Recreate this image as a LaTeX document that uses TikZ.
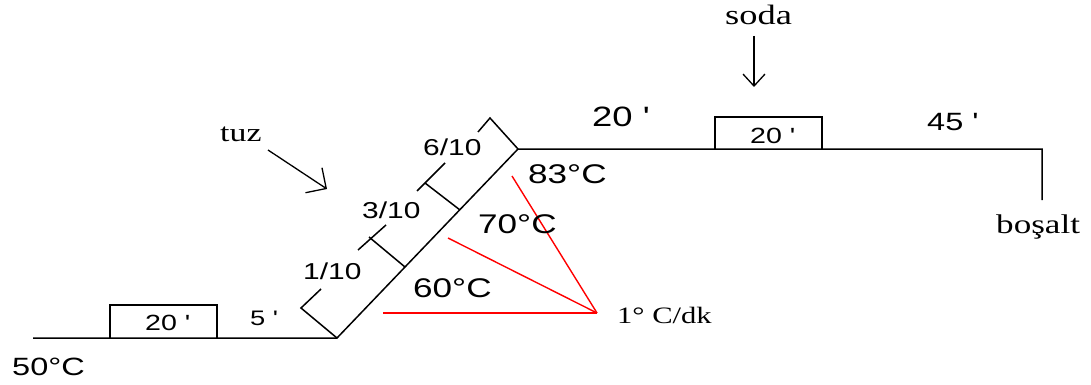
\documentclass[tikz,border=0pt]{standalone}
\usepackage{fontspec}
\usetikzlibrary{arrows.meta}
\newfontfamily\sansf{Liberation Sans}
\newfontfamily\seriff{Liberation Serif}
\newcommand\hs[1]{\scalebox{1.3}[1]{#1}}
\newcommand\ap{{\char"27}}
\tikzset{
  lbl/.style={inner sep=0pt, anchor=base west},
  ln/.style={line width=1.5pt, black},
  rd/.style={line width=1.4pt, red},
}
\begin{document}
\begin{tikzpicture}[x=1pt,y=-1pt]
\useasboundingbox (0,0) rectangle (1091,385);
% path coordinates
\coordinate (L0) at (33,338);
\coordinate (A) at (337,338);
\coordinate (B) at (518,149);
\coordinate (R) at (1042,149);
\coordinate (Rd) at (1042,200);
\draw[ln] (L0) -- (A) -- (B) -- (R) -- (Rd);
% boxes
\draw[ln] (110,338) |- (217,305) -- (217,338);
\draw[ln] (715,149) |- (822,117) -- (822,149);
% brackets
\draw[ln] (A) -- (301,308) -- (321,289);
\coordinate (T1) at (405,267);
\draw[ln] (T1) -- (369,237);
\draw[ln] (358,250) -- (386,225);
\coordinate (T2) at (460,210);
\draw[ln] (T2) -- (425,183);
\draw[ln] (417,191) -- (445,163);
\draw[ln] (B) -- (490,118) -- (478,132);
% red lines
\coordinate (P) at (597,313);
\draw[rd] (383,313) -- (P);
\draw[rd] (448,238) -- (P);
\draw[rd] (512,176) -- (P);
% texts
\node[lbl, font=\sansf\fontsize{25}{25}\selectfont] (t50) at (12,375) {\hs{50°C}};
\node[lbl, font=\sansf\fontsize{22}{22}\selectfont] (b1) at (145,330) {\hs{20 \ap}};
\node[lbl, font=\sansf\fontsize{21}{21}\selectfont] (t5) at (250,325) {\hs{5 \ap}};
\node[lbl, font=\sansf\fontsize{23}{23}\selectfont] (f1) at (303,279) {\hs{1/10}};
\node[lbl, font=\sansf\fontsize{23}{23}\selectfont] (f3) at (362,218) {\hs{3/10}};
\node[lbl, font=\sansf\fontsize{23}{23}\selectfont] (f6) at (423,155) {\hs{6/10}};
\node[lbl, font=\sansf\fontsize{27}{27}\selectfont] (t60) at (413,297) {\hs{60°C}};
\node[lbl, font=\sansf\fontsize{27}{27}\selectfont] (t70) at (478,233) {\hs{70°C}};
\node[lbl, font=\sansf\fontsize{27}{27}\selectfont] (t83) at (528,183) {\hs{83°C}};
\node[lbl, font=\seriff\fontsize{23.5}{23.5}\selectfont] (rate) at (617,323) {\hs{1° C/dk}};
\node[lbl, font=\sansf\fontsize{28}{28}\selectfont] (t20) at (592,126) {\hs{20 \ap}};
\node[lbl, font=\sansf\fontsize{25}{25}\selectfont] (t45) at (927,130) {\hs{45 \ap}};
\node[lbl, font=\sansf\fontsize{22}{22}\selectfont] (b2) at (750,143) {\hs{20 \ap}};
\node[lbl, font=\seriff\fontsize{28}{28}\selectfont] (soda) at (725,25) {\hs{soda}};
\node[lbl, font=\seriff\fontsize{27}{27}\selectfont] (bos) at (996,233) {\hs{boşalt}};
\node[lbl, font=\seriff\fontsize{26}{26}\selectfont] (tuz) at (220,141) {\hs{tuz}};
% arrows
\coordinate (s0) at (754,36);
\coordinate (s1) at (754,87);
\draw[line width=1.3pt, -{Straight Barb[length=12pt,width=22pt]}] (s0) -- (s1);
\coordinate (z0) at (268,150);
\coordinate (z1) at (327,189);
\draw[line width=1.3pt, -{Straight Barb[length=15pt,width=30pt]}] (z0) -- (z1);
\end{tikzpicture}
\end{document}
